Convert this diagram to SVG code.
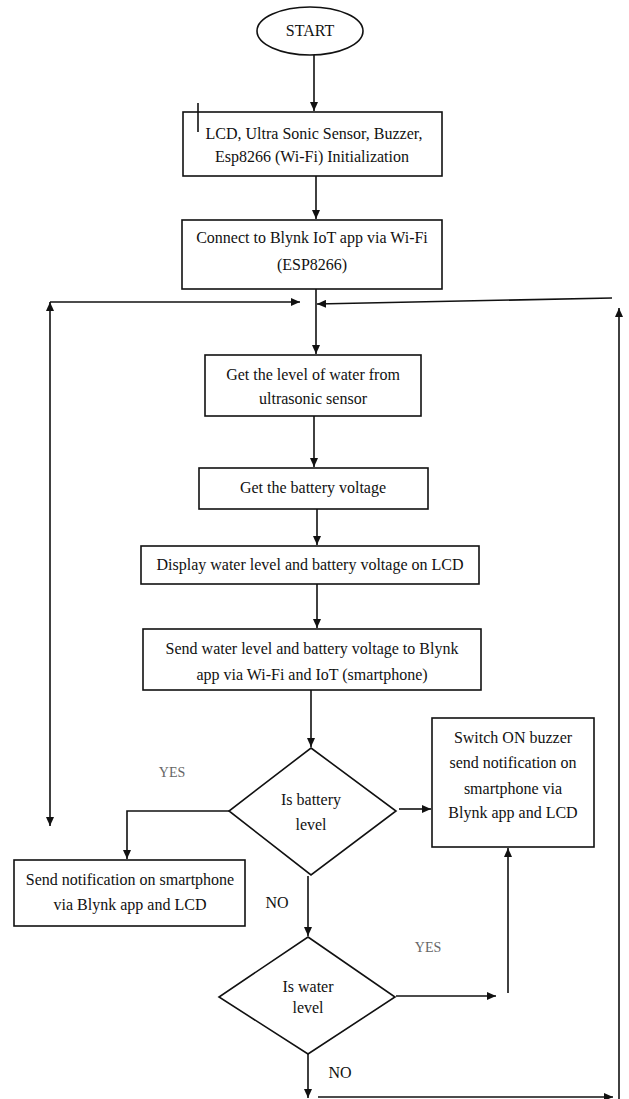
<svg xmlns="http://www.w3.org/2000/svg" width="629" height="1099" viewBox="0 0 629 1099">
<style>
.n{fill:#fff;stroke:#111;stroke-width:1.6}
.t{font-family:"Liberation Serif","Times New Roman",serif;font-size:16px;fill:#111;text-anchor:middle}
.l{font-family:"Liberation Serif","Times New Roman",serif;font-size:16px;fill:#111;text-anchor:middle}
.g{font-family:"Liberation Serif","Times New Roman",serif;font-size:14px;fill:#666;text-anchor:middle}
.c{fill:none;stroke:#111;stroke-width:1.6}
</style>
<defs>
<marker id="a" markerUnits="userSpaceOnUse" markerWidth="9" markerHeight="8" refX="9" refY="4" orient="auto-start-reverse">
<path d="M0,0 L9,4 L0,8 z" fill="#111"/>
</marker>
</defs>
<rect width="629" height="1099" fill="#fff"/>
<g id="connectors">
<path class="c" d="M314,55 V111" marker-end="url(#a)"/>
<path class="c" d="M316,176 V219" marker-end="url(#a)"/>
<path class="c" d="M316,289 V354" marker-end="url(#a)"/>
<path class="c" d="M50,302 H300" marker-end="url(#a)"/>
<path class="c" d="M50,826 V302" marker-start="url(#a)" marker-end="url(#a)"/>
<path class="c" d="M612,298 L317,304" marker-end="url(#a)"/>
<path class="c" d="M619,1099 V308" marker-end="url(#a)"/>
<path class="c" d="M314,416 V467" marker-end="url(#a)"/>
<path class="c" d="M317,509 V545" marker-end="url(#a)"/>
<path class="c" d="M317,584 V628" marker-end="url(#a)"/>
<path class="c" d="M311,690 V747" marker-end="url(#a)"/>
<path class="c" d="M229,811 H127 V859" marker-end="url(#a)"/>
<path class="c" d="M399,809 H431" marker-end="url(#a)"/>
<path class="c" d="M308,876 V936" marker-end="url(#a)"/>
<path class="c" d="M396,996 H496" marker-end="url(#a)"/>
<path class="c" d="M508,993 V848" marker-end="url(#a)"/>
<path class="c" d="M308,1054 V1098" marker-end="url(#a)"/>
<path class="c" d="M318,1097 H613" marker-end="url(#a)"/>
</g>
<g id="start">
<ellipse class="n" cx="310" cy="31" rx="53" ry="24"/>
<text class="t" x="310" y="36">START</text>
</g>
<g id="init">
<rect class="n" x="183" y="112" width="259" height="64"/>
<path class="c" d="M198,103 V132" stroke-width="1.2"/>
<text class="t" x="314" y="139">LCD, Ultra Sonic Sensor, Buzzer,</text>
<text class="t" x="312" y="162">Esp8266 (Wi-Fi) Initialization</text>
</g>
<g id="connect">
<rect class="n" x="182" y="220" width="260" height="69"/>
<text class="t" x="312" y="243">Connect to Blynk IoT app via Wi-Fi</text>
<text class="t" x="312" y="270">(ESP8266)</text>
</g>
<g id="getwater">
<rect class="n" x="205" y="355" width="216" height="61"/>
<text class="t" x="313" y="380">Get the level of water from</text>
<text class="t" x="313" y="404">ultrasonic sensor</text>
</g>
<g id="getbattery">
<rect class="n" x="199" y="468" width="229" height="41"/>
<text class="t" x="313" y="493">Get the battery voltage</text>
</g>
<g id="display">
<rect class="n" x="141" y="546" width="338" height="38"/>
<text class="t" x="310" y="570">Display water level and battery voltage on LCD</text>
</g>
<g id="send">
<rect class="n" x="143" y="629" width="338" height="61"/>
<text class="t" x="312" y="654">Send water level and battery voltage to Blynk</text>
<text class="t" x="312" y="680">app via Wi-Fi and IoT (smartphone)</text>
</g>
<g id="battery-decision">
<polygon class="n" points="311,748 396,811 311,875 229,811"/>
<text class="t" x="311" y="805">Is battery</text>
<text class="t" x="311" y="830">level</text>
</g>
<g id="notify">
<rect class="n" x="14" y="860" width="231" height="66"/>
<text class="t" x="130" y="885">Send notification on smartphone</text>
<text class="t" x="130" y="910">via Blynk app and LCD</text>
</g>
<g id="buzzer">
<rect class="n" x="432" y="718" width="162" height="129"/>
<text class="t" x="513" y="743">Switch ON buzzer</text>
<text class="t" x="513" y="768">send notification on</text>
<text class="t" x="513" y="794">smartphone via</text>
<text class="t" x="513" y="818">Blynk app and LCD</text>
</g>
<g id="water-decision">
<polygon class="n" points="308,937 395,997 308,1054 219,997"/>
<text class="t" x="308" y="992">Is water</text>
<text class="t" x="308" y="1013">level</text>
</g>
<g id="labels">
<text class="g" x="172" y="777">YES</text>
<text class="l" x="277" y="908">NO</text>
<text class="g" x="428" y="952">YES</text>
<text class="l" x="340" y="1078">NO</text>
</g>
</svg>
